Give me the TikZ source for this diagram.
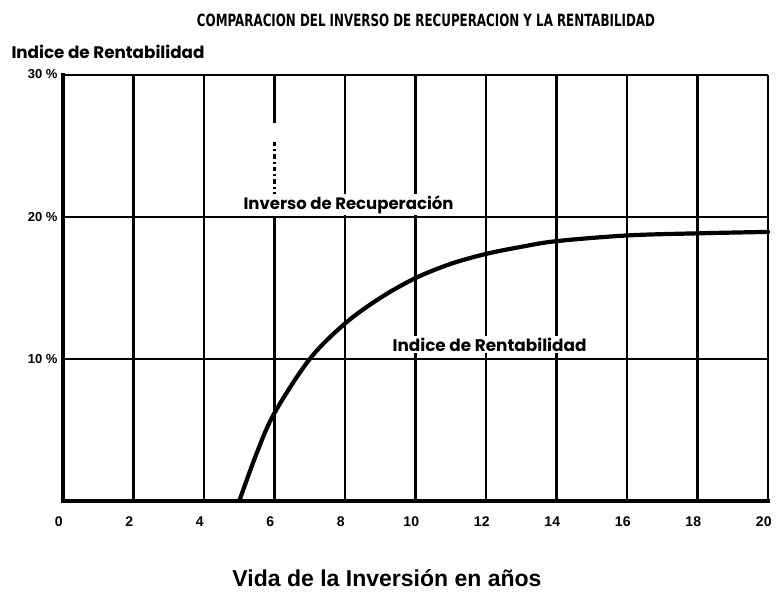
\documentclass[tikz,border=0pt]{standalone}
\usepackage{fontspec}
\setmainfont{Liberation Sans}
\newfontfamily\geo{Poppins}
\newfontfamily\heavy{DejaVu Sans}
\usepackage{graphicx}
\tikzset{
  gridline/.style={line width=2.2pt, black},
  axisline/.style={line width=3.8pt, black, line cap=rect},
  curveline/.style={line width=4.2pt, black, line cap=round},
  ticklab/.style={font=\bfseries\fontsize{14}{16}\selectfont, inner sep=0pt},
  ylab/.style={font=\bfseries\fontsize{13}{15}\selectfont, inner sep=0pt, anchor=east},
  lab/.style={inner sep=0pt},
  boxlab/.style={inner sep=1.5pt, fill=white},
}
\begin{document}
\begin{tikzpicture}[x=1pt,y=1pt]
\useasboundingbox (0,0) rectangle (781,-599);
% title
\node[lab] (title) at (426,-20) {\resizebox{458pt}{12.5pt}{\heavy\bfseries COMPARACION DEL INVERSO DE RECUPERACION Y LA RENTABILIDAD}};
\node[lab] (ytitle) at (108,-52) {\resizebox{193pt}{!}{\geo\bfseries Indice de Rentabilidad}};
\node[lab] (xtitle) at (387,-578) {\resizebox{309pt}{!}{\bfseries Vida de la Inversión en años}};
\begin{scope}[shift={(63,-501)}, x=35.25pt, y=14.2pt]
  % vertical grid lines
  \foreach \t in {2,4,8,10,12,14,16,18} {
    \draw[gridline] (\t,0) -- (\t,30);
  }
  % x = 6 line: solid lower part, broken upper part
  \draw[gridline] (6,0) -- (6,20);
  \draw[gridline] (6,30) -- (6,26.6);
  \draw[gridline, dash pattern=on 4.5pt off 3pt on 2pt off 3pt] (6,25.3) -- (6,20);
  % right border and top border
  \draw[gridline, line width=2.6pt] (20,0) -- (20,30);
  \draw[gridline, line width=2.8pt] (0,30) -- (20,30);
  % horizontal lines
  \draw[gridline] (0,20) -- (20,20);
  \draw[gridline] (0,10) -- (20,10);
  % axes
  \draw[axisline] (0,30) -- (0,0) -- (20,0);
  % curve
  \draw[curveline] plot[smooth, tension=0.55] coordinates {(5,0) (5.5,3.4) (6,6.2) (7,10) (8,12.5) (9,14.3) (10,15.7) (11,16.7) (12,17.4) (13,17.9) (14,18.3) (16,18.7) (18,18.85) (20,18.95)};
  % line labels
  \node[boxlab, anchor=base] (inv) at (8.1,20.55) {\resizebox{210pt}{!}{\geo\bfseries Inverso de Recuperación}};
  \node[boxlab, anchor=base] (ind) at (12.1,10.55) {\resizebox{194pt}{!}{\geo\bfseries Indice de Rentabilidad}};
  % y labels
  \node[ylab] (y30) at (-0.15,30.05) {30 \%};
  \node[ylab] (y20) at (-0.15,20) {20 \%};
  \node[ylab] (y10) at (-0.15,10) {10 \%};
  % x labels
  \foreach \t in {0,2,...,20} {
    \node[ticklab] (x\t) at ({\t-0.12},-1.45) {\t};
  }
\end{scope}
\end{tikzpicture}
\end{document}
